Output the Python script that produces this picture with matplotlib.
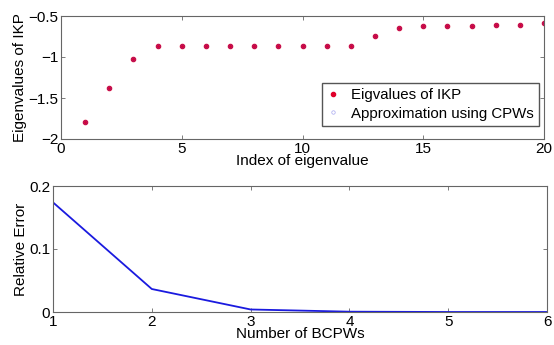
import numpy as np
import matplotlib.pyplot as plt

# top panel: eigenvalues
idx = np.arange(1, 21)
eig_ikp = [-1.79, -1.375, -1.02, -0.87, -0.87, -0.86, -0.86, -0.86, -0.86, -0.86,
           -0.86, -0.86, -0.745, -0.645, -0.625, -0.62, -0.62, -0.61, -0.61, -0.59]
eig_cpw = eig_ikp  # approximation overlaps the exact values

# bottom panel: relative error
n_bcpw = [1, 2, 3, 4, 5, 6]
rel_err = [0.174, 0.0365, 0.004, 0.0005, 0.0, 0.0]

plt.rcParams['font.family'] = ['Liberation Sans', 'DejaVu Sans']
fs = 11
fig = plt.figure(figsize=(5.54, 3.45), dpi=100)

ax1 = fig.add_axes([61/554, 1-139/345, 483/554, 123/345])
ax1.plot(idx, eig_ikp, '.', color='#e0002a', markersize=6, label='Eigvalues of IKP')
ax1.plot(idx, eig_cpw, 'o', color='#5050e0', markersize=2.5, mfc='none', mew=0.5,
         alpha=0.5, label='Approximation using CPWs')
ax1.set_xlim(0, 20)
ax1.set_ylim(-2, -0.5)
ax1.set_xticks([0, 5, 10, 15, 20])
ax1.set_yticks([-2, -1.5, -1, -0.5])
ax1.set_yticklabels(['\u22122', '\u22121.5', '\u22121', '\u22120.5'])
ax1.set_xlabel('Index of eigenvalue', fontsize=fs, labelpad=-1)
ax1.set_ylabel('Eigenvalues of IKP', fontsize=fs, labelpad=1)
ax1.legend(loc='lower right', fontsize=10.8, fancybox=False, edgecolor='#555555',
           framealpha=1, handlelength=0.8, borderpad=0.35, labelspacing=0.3,
           bbox_to_anchor=(0.99, 0.106), borderaxespad=0)

ax2 = fig.add_axes([53/554, 1-312/345, 494/554, 126/345])
ax2.plot(n_bcpw, rel_err, '-', color='#1a1adf', linewidth=1.3)
ax2.set_xlim(1, 6)
ax2.set_ylim(0, 0.2)
ax2.set_yticks([0, 0.1, 0.2])
ax2.set_yticklabels(['0', '0.1', '0.2'])
ax2.set_xlabel('Number of BCPWs', fontsize=fs, labelpad=-1)
ax2.set_ylabel('Relative Error', fontsize=fs, labelpad=1)

for ax in (ax1, ax2):
    ax.tick_params(direction='in', top=True, right=True, labelsize=fs,
                   length=3, width=0.6, pad=2, color='#666666')
    for s in ax.spines.values():
        s.set_linewidth(0.8)
        s.set_color('#666666')

fig.savefig('out.png', dpi=100)
